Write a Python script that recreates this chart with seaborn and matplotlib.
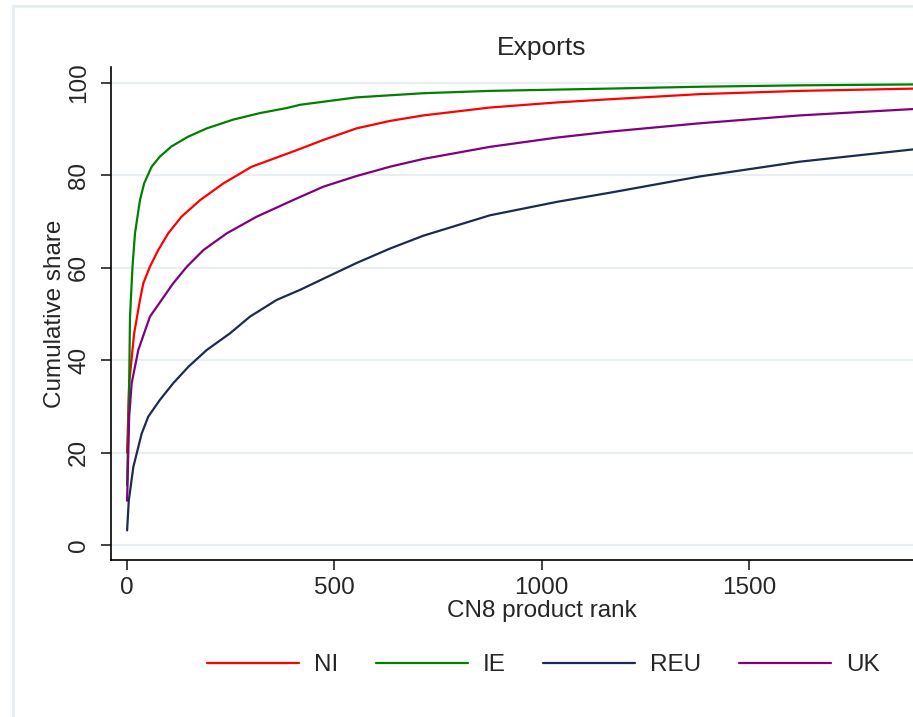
import pandas as pd
import seaborn as sns
import matplotlib.pyplot as plt
from matplotlib.lines import Line2D

# values (rank -> cumulative share, %)
ni_rank = [1, 6, 18, 32, 40, 56, 76, 100, 132, 177, 233, 301, 410, 474, 554, 634, 715, 875, 1036, 1165, 1381, 1622, 1900]
ni_share = [20.0, 35.0, 45.8, 53.0, 56.6, 60.2, 63.8, 67.4, 71.0, 74.6, 78.2, 81.8, 85.4, 87.6, 90.1, 91.7, 92.9, 94.6, 95.7, 96.4, 97.5, 98.2, 98.7]

ie_rank = [1, 6, 8, 14, 20, 32, 42, 60, 80, 108, 148, 193, 257, 321, 386, 418, 554, 715, 875, 1165, 1381, 1622, 1900]
ie_share = [13.0, 35.0, 49.4, 60.2, 67.4, 74.6, 78.2, 81.8, 84.0, 86.2, 88.3, 90.1, 92.0, 93.4, 94.5, 95.2, 96.8, 97.7, 98.2, 98.7, 99.1, 99.4, 99.6]

reu_rank = [1, 5, 16, 36, 52, 80, 112, 149, 193, 249, 297, 361, 418, 474, 554, 634, 715, 875, 1036, 1165, 1381, 1622, 1900]
reu_share = [3.2, 9.6, 16.9, 24.1, 27.8, 31.4, 35.0, 38.6, 42.2, 45.8, 49.4, 53.0, 55.2, 57.6, 61.0, 64.1, 66.9, 71.3, 74.2, 76.2, 79.7, 82.9, 85.6]

uk_rank = [1, 6, 12, 28, 56, 112, 145, 185, 241, 313, 401, 474, 554, 634, 715, 875, 1036, 1165, 1381, 1622, 1900]
uk_share = [9.6, 27.8, 35.0, 42.2, 49.4, 56.6, 60.2, 63.8, 67.4, 71.0, 74.6, 77.5, 79.8, 81.8, 83.5, 86.1, 88.1, 89.4, 91.2, 92.9, 94.3]

series = ["NI", "IE", "REU", "UK"]
colors = ["#ff0000", "#008000", "#1c2b50", "#800080"]

frames = []
for name, r, s in [("NI", ni_rank, ni_share), ("IE", ie_rank, ie_share),
                   ("REU", reu_rank, reu_share), ("UK", uk_rank, uk_share)]:
    frames.append(pd.DataFrame({"rank": r, "share": s, "series": name}))
df = pd.concat(frames, ignore_index=True)

sns.set_style("white")
plt.rcParams["font.family"] = ["Liberation Sans", "DejaVu Sans"]

W, H = 913, 717
fig = plt.figure(figsize=(W / 100, H / 100), dpi=100)
# axes runs past the right edge, like the cropped original
ax = fig.add_axes([111 / W, (H - 560) / H, (972 - 111) / W, (560 - 67.3) / H])

sns.lineplot(data=df, x="rank", y="share", hue="series", hue_order=series,
             palette=colors, linewidth=1.6, estimator=None, sort=True,
             legend=False, ax=ax)

ax.set_xlim(-37.8, 2037)
ax.set_ylim(-3.2, 103.3)
ax.set_xticks([0, 500, 1000, 1500])
ax.set_yticks([0, 20, 40, 60, 80, 100])
ax.yaxis.grid(True, color="#e8eef2", linewidth=1.6)
ax.xaxis.grid(False)
ax.set_axisbelow(True)

for side in ["top", "right"]:
    ax.spines[side].set_visible(False)
for side in ["left", "bottom"]:
    ax.spines[side].set_color("black")
    ax.spines[side].set_linewidth(1.2)

ax.tick_params(axis="both", which="major", direction="out", length=7,
               width=1.2, color="#222222", labelsize=17.5, left=True, bottom=True)
ax.tick_params(axis="y", pad=8)
ax.tick_params(axis="x", pad=5)
for lab in ax.get_yticklabels():
    lab.set_rotation(90)
    lab.set_va("center")

ax.set_xlabel("CN8 product rank", fontsize=17.5, labelpad=1)
ax.set_ylabel("Cumulative share", fontsize=17.5, labelpad=1.5)
ax.set_title("Exports", fontsize=19, pad=9)

handles = [Line2D([], [], color=c, linewidth=1.6) for c in colors]
fig.legend(handles, series, loc="center", bbox_to_anchor=(543 / W, 1 - 665 / H),
           ncol=4, frameon=False, fontsize=17.5, handlelength=3.8,
           handletextpad=0.6, columnspacing=1.55)

# faint outer frame of the original graph region
fig.add_artist(Line2D([12.5 / W, 12.5 / W], [0, 1 - 6 / H], color="#e6edf1",
                      linewidth=2, transform=fig.transFigure))
fig.add_artist(Line2D([12.5 / W, 1], [1 - 6 / H, 1 - 6 / H], color="#e6edf1",
                      linewidth=2, transform=fig.transFigure))

fig.savefig("out.png", dpi=100)
